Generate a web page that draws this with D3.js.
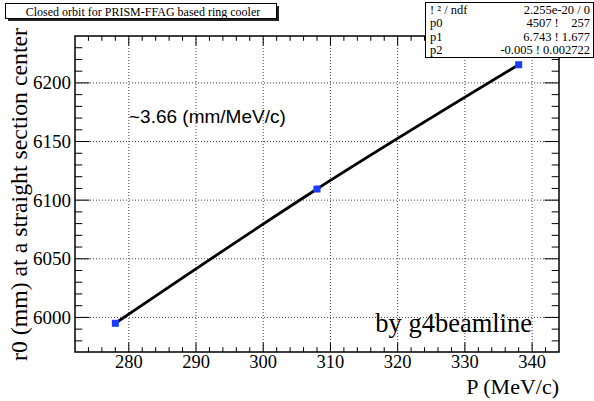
<!DOCTYPE html>
<html>
<head>
<meta charset="utf-8">
<script src="https://cdn.jsdelivr.net/npm/d3@7"></script>
<style>
  body { margin: 0; background: #fff; }
  svg { display: block; }
</style>
</head>
<body>
<div id="chart"></div>
<script>
// data
const momentum = [278, 308, 338];
const radius = [5995, 6109.5, 6215.5];
const xTicks = [280, 290, 300, 310, 320, 330, 340];
const yTicks = [6000, 6050, 6100, 6150, 6200];
const statsLabels = ['! \u00b2 / ndf', 'p0', 'p1', 'p2'];
const statsValues = ['2.255e-20 / 0', '4507 !    257', '6.743 ! 1.677', '-0.005 ! 0.002722'];

const serif = '"Liberation Serif", "Times New Roman", Times, serif';
const width = 594;
const height = 401;
const margin = { top: 36, right: 35, bottom: 49, left: 75 };
const plotW = width - margin.left - margin.right;
const plotH = height - margin.top - margin.bottom;

const svg = d3.select('div#chart').append('svg').attr('width', width).attr('height', height);

const x = d3.scaleLinear().domain([272, 344]).range([0, plotW]);
const y = d3.scaleLinear().domain([5970.5, 6240]).range([plotH, 0]);

const g = svg.append('g').attr('transform', `translate(${margin.left},${margin.top})`);

// dotted grid
g.append('g').selectAll('line').data(xTicks).join('line')
    .attr('x1', d => x(d)).attr('x2', d => x(d)).attr('y1', 0).attr('y2', plotH)
    .attr('stroke', '#444').attr('stroke-dasharray', '1,2');
g.append('g').selectAll('line').data(yTicks).join('line')
    .attr('x1', 0).attr('x2', plotW).attr('y1', d => y(d)).attr('y2', d => y(d))
    .attr('stroke', '#444').attr('stroke-dasharray', '1,2');

// ticks on all four sides (ROOT style, inward)
const xMinor = d3.range(274, 344, 2);
const yMinor = d3.range(5980, 6240, 10);
const xLen = d => (xTicks.includes(d) ? 9.5 : 4.8);
const yLen = d => (yTicks.includes(d) ? 14.5 : 7.3);
const ticks = g.append('g').attr('stroke', '#000');
xMinor.forEach(d => {
    ticks.append('line').attr('x1', x(d)).attr('x2', x(d)).attr('y1', plotH).attr('y2', plotH - xLen(d));
    ticks.append('line').attr('x1', x(d)).attr('x2', x(d)).attr('y1', 0).attr('y2', xLen(d));
});
yMinor.forEach(d => {
    ticks.append('line').attr('x1', 0).attr('x2', yLen(d)).attr('y1', y(d)).attr('y2', y(d));
    ticks.append('line').attr('x1', plotW).attr('x2', plotW - yLen(d)).attr('y1', y(d)).attr('y2', y(d));
});

// frame
g.append('rect').attr('width', plotW).attr('height', plotH)
    .attr('fill', 'none').attr('stroke', '#000').attr('stroke-width', 1.5);

// tick labels
g.append('g').attr('font-family', serif).selectAll('text').data(xTicks).join('text')
    .attr('x', d => x(d)).attr('y', plotH + 16)
    .attr('text-anchor', 'middle').attr('font-size', 18.5).text(d => d);
g.append('g').attr('font-family', serif).selectAll('text').data(yTicks).join('text')
    .attr('x', -4).attr('y', d => y(d) + 6.5)
    .attr('text-anchor', 'end').attr('font-size', 19).text(d => d);

// axis titles
svg.append('text').attr('font-family', serif)
    .attr('x', margin.left + plotW).attr('y', 394)
    .attr('text-anchor', 'end').attr('font-size', 22).text('P (MeV/c)');
svg.append('text').attr('font-family', serif)
    .attr('transform', `translate(27,${margin.top - 8}) rotate(-90)`)
    .attr('text-anchor', 'end').attr('font-size', 23.8).text('r0 (mm) at a straight section center');

// fit line through the points
g.append('path')
    .datum(momentum.map((m, i) => [m, radius[i]]))
    .attr('fill', 'none').attr('stroke', '#000').attr('stroke-width', 2.8)
    .attr('d', d3.line().x(d => x(d[0])).y(d => y(d[1])).curve(d3.curveMonotoneX));

// markers
g.append('g').selectAll('rect').data(momentum).join('rect')
    .attr('x', d => x(d) - 3.5).attr('y', (d, i) => y(radius[i]) - 3.5)
    .attr('width', 7).attr('height', 7).attr('fill', '#1c3cff');

// annotations
svg.append('text').attr('x', 129).attr('y', 123)
    .attr('font-family', '"Liberation Sans", Arial, sans-serif').attr('font-size', 19)
    .text('~3.66 (mm/MeV/c)');
svg.append('text').attr('font-family', serif).attr('x', 532).attr('y', 332)
    .attr('text-anchor', 'end').attr('font-size', 26.5).text('by g4beamline');

// title box with shadow
svg.append('rect').attr('x', 8).attr('y', 6).attr('width', 271).attr('height', 15).attr('fill', '#222');
svg.append('rect').attr('x', 5.5).attr('y', 3.5).attr('width', 271).attr('height', 15)
    .attr('fill', '#fff').attr('stroke', '#000');
svg.append('text').attr('font-family', serif).attr('x', 143).attr('y', 15.5)
    .attr('text-anchor', 'middle').attr('font-size', 12)
    .text('Closed orbit for PRISM-FFAG based ring cooler');

// stats box
svg.append('rect').attr('x', 425.5).attr('y', 2.5).attr('width', 168).attr('height', 55)
    .attr('fill', '#fff').attr('stroke', '#000');
const stats = svg.append('g').attr('font-family', serif).attr('font-size', 12.5);
statsLabels.forEach((s, i) => {
    stats.append('text').attr('x', 430).attr('y', 13.5 + i * 13.5).text(s);
    stats.append('text').attr('x', 590).attr('y', 13.5 + i * 13.5).attr('text-anchor', 'end')
        .style('white-space', 'pre').text(statsValues[i]);
});
</script>
</body>
</html>
